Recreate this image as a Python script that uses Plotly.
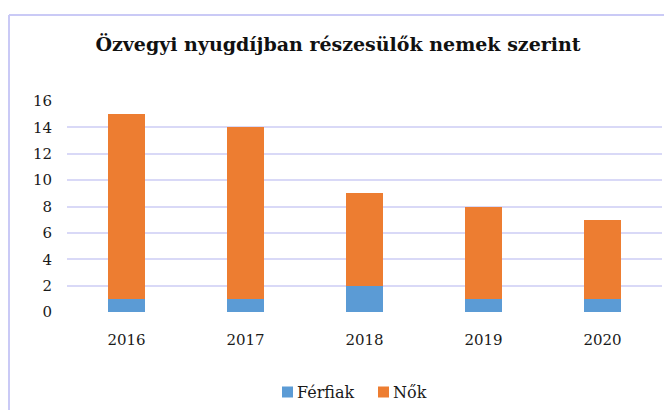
import plotly.graph_objects as go

years = ["2016", "2017", "2018", "2019", "2020"]
ferfiak = [1, 1, 2, 1, 1]
nok = [14, 13, 7, 7, 6]
y_ticks = [0, 2, 4, 6, 8, 10, 12, 14, 16]

series = [("Férfiak", ferfiak, "#5B9BD5"), ("Nők", nok, "#ED7D31")]

W, H = 664, 410
L, R, T, B = 67, 2, 101, 98
PW, PH = W - L - R, H - T - B

SERIF = "DejaVu Serif, Liberation Serif, serif"
GRID = "#d9d9f7"
FRAME = "#cacaf6"


def px_x(x):
    return (x - L) / PW


def px_y(y):
    return (H - B - y) / PH


fig = go.Figure()
for name, vals, color in series:
    fig.add_trace(go.Bar(x=years, y=vals, name=name, marker_color=color,
                         marker_line_width=0, showlegend=False))

# outer chart frame (top and left edges)
fig.add_shape(type="line", xref="paper", yref="paper", layer="above",
              x0=px_x(9), x1=px_x(W + 5), y0=px_y(15), y1=px_y(15),
              line=dict(color=FRAME, width=2))
fig.add_shape(type="line", xref="paper", yref="paper", layer="above",
              x0=px_x(9), x1=px_x(9), y0=px_y(15), y1=px_y(H + 5),
              line=dict(color=FRAME, width=2))

# compact legend below the plot: colour key square followed by series name
legend_x = [282, 378]
legend_y = 392
for (name, _, color), lx in zip(series, legend_x):
    fig.add_shape(type="rect", xref="paper", yref="paper", layer="above",
                  x0=px_x(lx), x1=px_x(lx + 11),
                  y0=px_y(legend_y + 5.5), y1=px_y(legend_y - 5.5),
                  fillcolor=color, line_width=0)
    fig.add_annotation(text=name, xref="paper", yref="paper", showarrow=False,
                       x=px_x(lx + 13), xanchor="left",
                       y=px_y(legend_y), yanchor="middle",
                       font=dict(family=SERIF, size=16, color="#1a1a1a"))

fig.update_layout(
    width=W, height=H,
    margin=dict(l=L, r=R, t=T, b=B),
    barmode="stack",
    bargap=0.69,
    plot_bgcolor="white",
    paper_bgcolor="white",
    showlegend=False,
    font=dict(family=SERIF, size=15, color="#1a1a1a"),
    title=dict(text="<b>Özvegyi nyugdíjban részesülők nemek szerint</b>",
               x=338 / W, xanchor="center", y=1 - 44 / H, yanchor="middle",
               font=dict(family=SERIF, size=19, color="#111111")),
    xaxis=dict(showgrid=False, showline=False, zeroline=False,
               ticks="", ticklabelstandoff=17,
               tickfont=dict(family=SERIF, size=15)),
    yaxis=dict(range=[0, 16], tickvals=y_ticks, showgrid=True,
               gridcolor=GRID, gridwidth=2, zeroline=False, showline=False,
               ticks="", ticklabelstandoff=14,
               tickfont=dict(family=SERIF, size=15)),
)

fig.write_html("out.html")
